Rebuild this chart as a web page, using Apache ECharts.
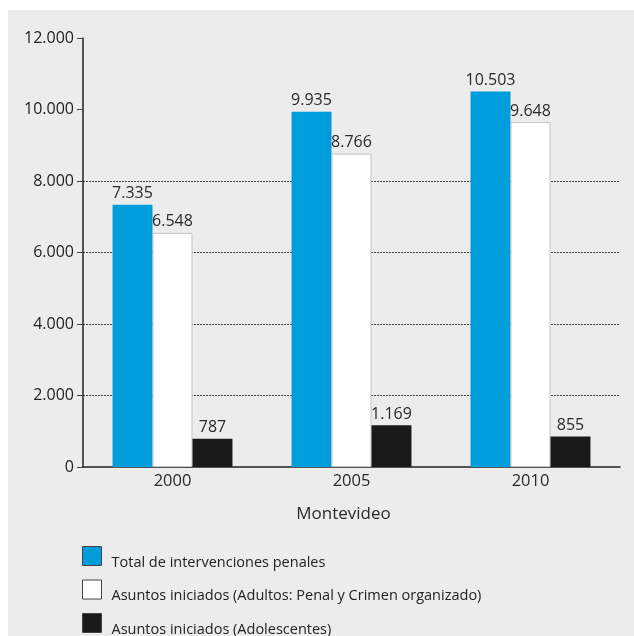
<!DOCTYPE html>
<html>
<head>
<meta charset="utf-8">
<script src="https://cdn.jsdelivr.net/npm/echarts@6/dist/echarts.min.js"></script>
<style>html,body{margin:0;padding:0;background:#fff}#c{width:634px;height:636px}</style>
</head>
<body>
<div id="c"></div>
<script>
var categories = ['2000', '2005', '2010'];
var seriesNames = ['Total de intervenciones penales', 'Asuntos iniciados (Adultos: Penal y Crimen organizado)', 'Asuntos iniciados (Adolescentes)'];
var totalIntervenciones = [7335, 9935, 10503];
var adultos = [6548, 8766, 9648];
var adolescentes = [787, 1169, 855];
var yTicks = [0, 2000, 4000, 6000, 8000, 10000, 12000];

function fmt(v) {
  return String(v).replace(/\B(?=(\d{3})+(?!\d))/g, '.');
}
var FONT = '"Open Sans", sans-serif';
var chart = echarts.init(document.getElementById('c'));
var labelCfg = { show: true, position: 'top', distance: 3, fontSize: 16, color: '#2a2a2a', fontFamily: FONT, formatter: function (p) { return fmt(p.value); } };
chart.setOption({
  animation: false,
  textStyle: { fontFamily: FONT },
  graphic: [{ type: 'rect', left: 8, top: 10, shape: { width: 626, height: 626 }, style: { fill: '#ececec' }, z: -10 }],
  legend: {
    orient: 'vertical', left: 82, top: 542, height: 150, padding: 0, itemWidth: 19, itemHeight: 19, itemGap: 5.5,
    icon: 'rect',
    formatter: '{t|{name}}',
    textStyle: { fontSize: 14.5, color: '#222', fontFamily: FONT, rich: { t: { fontSize: 14.5, lineHeight: 20, color: '#222', fontFamily: FONT, padding: [13, 0, 0, 5] } } },
    data: [
      { name: seriesNames[0], itemStyle: { color: '#009ddc', borderColor: '#444', borderWidth: 1 } },
      { name: seriesNames[1], itemStyle: { color: '#ffffff', borderColor: '#444', borderWidth: 1 } },
      { name: seriesNames[2], itemStyle: { color: '#1a1a1a', borderColor: '#444', borderWidth: 1 } }
    ]
  },
  grid: { left: 83, right: 14, top: 38, bottom: 169 },
  xAxis: {
    type: 'category', data: categories,
    name: 'Montevideo', nameLocation: 'middle', nameGap: 39,
    nameTextStyle: { fontSize: 17, color: '#2a2a2a', fontFamily: FONT, padding: [0, 16, 0, 0] },
    axisLine: { lineStyle: { color: '#222', width: 1.5 } },
    axisTick: { show: false },
    axisLabel: { fontSize: 16.5, color: '#2a2a2a', margin: 6, fontFamily: FONT }
  },
  yAxis: {
    type: 'value', min: yTicks[0], max: yTicks[yTicks.length - 1], interval: 2000,
    axisLine: { show: true, lineStyle: { color: '#222', width: 1.5 } },
    axisTick: { show: true, length: 6, lineStyle: { color: '#444' } },
    axisLabel: { fontSize: 16, color: '#222', margin: 9, fontFamily: FONT, formatter: function (v) { return fmt(v); } },
    splitLine: { show: true, lineStyle: { type: [2, 1], width: 1, color: ['rgba(0,0,0,0)', '#444', '#444', '#444', '#444', 'rgba(0,0,0,0)', 'rgba(0,0,0,0)'] } }
  },
  series: [
    { name: seriesNames[0], type: 'bar', data: totalIntervenciones, barGap: '0%', barCategoryGap: '33%', itemStyle: { color: '#009ddc' }, label: labelCfg },
    { name: seriesNames[1], type: 'bar', data: adultos, itemStyle: { color: '#ffffff', borderColor: '#c4c4c4', borderWidth: 1 }, label: labelCfg },
    { name: seriesNames[2], type: 'bar', data: adolescentes, itemStyle: { color: '#1a1a1a' }, label: labelCfg }
  ]
});
</script>
</body>
</html>
